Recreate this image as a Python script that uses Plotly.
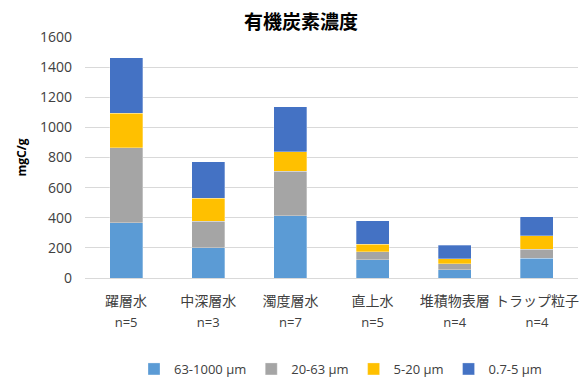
import plotly.graph_objects as go

categories = ["躍層水", "中深層水", "濁度層水", "直上水", "堆積物表層", "トラップ粒子"]
n_labels = ["n=5", "n=3", "n=7", "n=5", "n=4", "n=4"]
series_names = ["63-1000 µm", "20-63 µm", "5-20 µm", "0.7-5 µm"]
v_63_1000 = [368, 201, 414, 120, 55, 131]
v_20_63 = [497, 175, 294, 55, 40, 59]
v_5_20 = [228, 153, 129, 49, 33, 91]
v_07_5 = [368, 243, 301, 156, 91, 126]
colors = ["#5B9BD5", "#A5A5A5", "#FFC000", "#4472C4"]

series_values = [v_63_1000, v_20_63, v_5_20, v_07_5]
ticktext = [f"<span style='font-size:14px'>{c}</span><br><span style='font-size:13px'>{n}</span>"
            for c, n in zip(categories, n_labels)]

font_family = "Open Sans, Noto Sans CJK JP, sans-serif"

fig = go.Figure()
for name, vals, col in zip(series_names, series_values, colors):
    fig.add_trace(go.Bar(
        x=categories, y=vals, name=name,
        marker=dict(color=col, line=dict(color="rgba(255,255,255,0.6)", width=0.5)),
    ))

fig.update_layout(
    barmode="stack",
    bargap=0.6,
    width=579, height=379,
    margin=dict(l=85, r=1, t=37, b=101, autoexpand=False),
    paper_bgcolor="white", plot_bgcolor="white",
    font=dict(family=font_family, color="#404040", size=13),
    title=dict(text="<b>有機炭素濃度</b>", x=301/579, xanchor="center",
               y=1-22/379, yanchor="middle", xref="container", yref="container",
               font=dict(family="Noto Sans CJK JP, sans-serif", size=19, color="#000000")),
    xaxis=dict(tickmode="array", tickvals=categories, ticktext=ticktext,
               showgrid=False, showline=False, ticks="", tickangle=0, automargin=False,
               tickfont=dict(family=font_family, color="#404040", size=16),
               ticklabelstandoff=11),
    yaxis=dict(range=[0, 1600], dtick=200, showgrid=True, gridcolor="#D9D9D9", gridwidth=1,
               zeroline=True, zerolinecolor="#D9D9D9", zerolinewidth=1, automargin=False,
               tickfont=dict(size=14, color="#404040"), ticklabelstandoff=12,
               title=dict(text="<b>mgC/g</b>", font=dict(size=12, color="#000000"), standoff=10)),
    legend=dict(orientation="h", x=134/579, xanchor="left", xref="container",
                y=10/379, yanchor="middle", yref="container",
                font=dict(size=13, color="#404040"), traceorder="normal",
                itemwidth=30),
)

fig.write_html("out.html")
